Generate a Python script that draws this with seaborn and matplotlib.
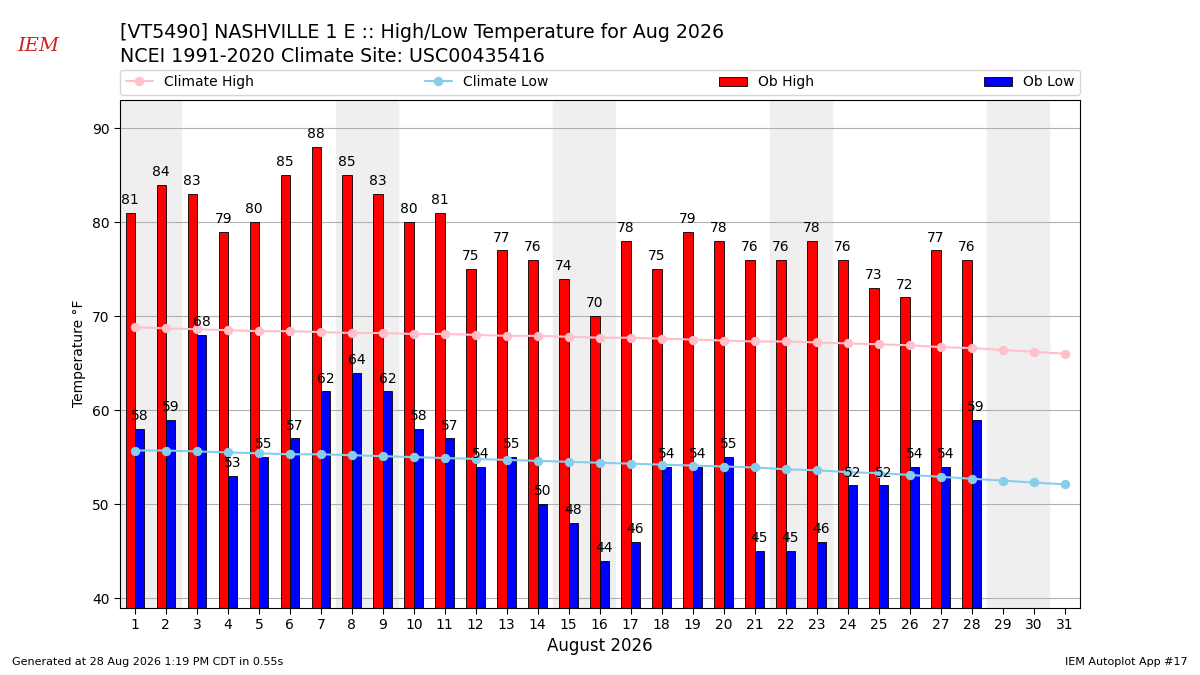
import numpy as np
import pandas as pd
import seaborn as sns
import matplotlib.pyplot as plt

days = list(range(1, 32))
ob_days = list(range(1, 29))
ob_high = [81, 84, 83, 79, 80, 85, 88, 85, 83, 80, 81, 75, 77, 76, 74, 70, 78, 75, 79, 78, 76, 76, 78, 76, 73, 72, 77, 76]
ob_low = [58, 59, 68, 53, 55, 57, 62, 64, 62, 58, 57, 54, 55, 50, 48, 44, 46, 54, 54, 55, 45, 45, 46, 52, 52, 54, 54, 59]
clim_high = [68.8, 68.7, 68.6, 68.5, 68.4, 68.4, 68.3, 68.2, 68.2, 68.1, 68.1, 68.0, 67.9, 67.9, 67.8, 67.7,
             67.7, 67.6, 67.5, 67.4, 67.3, 67.3, 67.2, 67.1, 67.0, 66.9, 66.7, 66.6, 66.4, 66.2, 66.0]
clim_low = [55.7, 55.7, 55.6, 55.5, 55.4, 55.3, 55.3, 55.2, 55.1, 55.0, 54.9, 54.8, 54.7, 54.6, 54.5, 54.4,
            54.3, 54.2, 54.1, 54.0, 53.9, 53.7, 53.6, 53.4, 53.3, 53.1, 52.9, 52.7, 52.5, 52.3, 52.1]
weekends = [1, 8, 15, 22, 29]

sns.set_style("white", {"text.color": "black", "axes.labelcolor": "black",
                        "xtick.color": "black", "ytick.color": "black"})
plt.rcParams["font.family"] = ["DejaVu Sans"]
fig = plt.figure(figsize=(12, 6.75), dpi=100)
ax = fig.add_axes([0.1, 0.1, 0.8, 0.752])

for d in weekends:
    ax.axvspan(d - 0.5, d + 1.5, color="#efefef", zorder=0)

clim = pd.DataFrame({"day": days, "high": clim_high, "low": clim_low})
sns.lineplot(data=clim, x="day", y="high", color="pink", marker="o", markeredgecolor="pink",
             label="Climate High", ax=ax, zorder=3)
sns.lineplot(data=clim, x="day", y="low", color="skyblue", marker="o", markeredgecolor="skyblue",
             label="Climate Low", ax=ax, zorder=3)

x = np.array(ob_days)
ax.bar(x - 0.15, ob_high, width=0.3, color="red", edgecolor="black", linewidth=0.6, label="Ob High", zorder=2)
ax.bar(x + 0.15, ob_low, width=0.3, color="blue", edgecolor="black", linewidth=0.6, label="Ob Low", zorder=2)
for xi, v in zip(x, ob_high):
    ax.text(xi - 0.15, v + 0.6, str(v), ha="center", va="bottom", fontsize=10, color="black")
for xi, v in zip(x, ob_low):
    ax.text(xi + 0.15, v + 0.6, str(v), ha="center", va="bottom", fontsize=10, color="black")

ax.set_xlim(0.52, 31.5)
ax.set_ylim(39, 93)
ax.set_xticks(days)
ax.set_yticks(range(40, 91, 10))
ax.yaxis.grid(True, color="#b0b0b0", linewidth=0.8)
ax.set_axisbelow(True)
for s in ax.spines.values():
    s.set_color("black")
ax.tick_params(axis="both", which="both", length=4, left=True, bottom=True, labelsize=10)
ax.set_xlabel("August 2026", fontsize=12)
ax.set_ylabel("Temperature °F")

ax.legend(loc="lower left", bbox_to_anchor=(0, 1.01, 1, 0.05), ncol=4, mode="expand",
          borderaxespad=0, fontsize=10)

fig.text(0.1, 0.952, "[VT5490] NASHVILLE 1 E :: High/Low Temperature for Aug 2026", fontsize=13.7, va="center")
fig.text(0.1, 0.917, "NCEI 1991-2020 Climate Site: USC00435416", fontsize=13.7, va="center")
fig.text(0.01, 0.015, "Generated at 28 Aug 2026 1:19 PM CDT in 0.55s", fontsize=8)
fig.text(0.99, 0.015, "IEM Autoplot App #17", fontsize=8, ha="right")
fig.text(0.032, 0.925, "IEM", fontsize=14, color="#cc2222", style="italic", ha="center", family="serif")

fig.savefig("out.png", dpi=100)
